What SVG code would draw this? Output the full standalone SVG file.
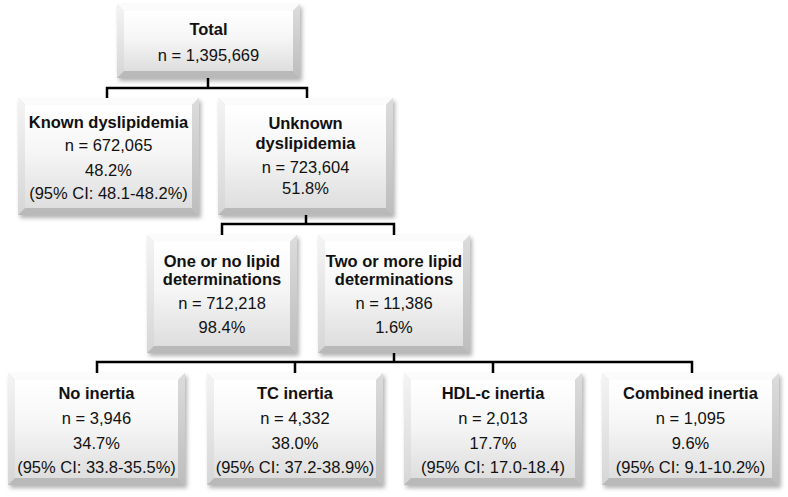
<svg xmlns="http://www.w3.org/2000/svg" width="788" height="497" viewBox="0 0 788 497">
<defs>
<linearGradient id="face" x1="0" y1="0" x2="0" y2="1">
<stop offset="0" stop-color="#ffffff"/>
<stop offset="0.45" stop-color="#f6f6f6"/>
<stop offset="1" stop-color="#dedede"/>
</linearGradient>
<linearGradient id="side" x1="0" y1="0" x2="0" y2="1">
<stop offset="0" stop-color="#f4f4f4"/>
<stop offset="1" stop-color="#d6d6d6"/>
</linearGradient>
<linearGradient id="rside" x1="0" y1="0" x2="0" y2="1">
<stop offset="0" stop-color="#dcdcdc"/>
<stop offset="1" stop-color="#bdbdbd"/>
</linearGradient>
<filter id="sh" x="-10%" y="-10%" width="125%" height="130%">
<feDropShadow dx="2" dy="3" stdDeviation="2" flood-color="#000" flood-opacity="0.3"/>
</filter>
</defs>
<style>
.box{fill:#d8d8d8;filter:url(#sh)}
.face{fill:url(#face)}
.bt{fill:#fbfbfb}
.bl{fill:url(#side)}
.br{fill:url(#rside)}
.bb{fill:#b9b9b9}
text{font-family:"Liberation Sans",Arial,sans-serif;font-size:16.5px;fill:#111;text-anchor:middle}
.h{font-weight:bold}
.conn{fill:none;stroke:#000;stroke-width:2.5}
</style>

<g id="connectors" class="conn">
<path d="M208,78 V88 M107,98 V88 H307 V98"/>
<path d="M306,215 V224 M222,235 V224 H394 V235"/>
<path d="M394,353 V362 M97,373 V362 H692 V373 M295,362 V373 M493,362 V373"/>
</g>

<g id="total">
<rect class="box" x="117" y="4" width="183" height="74"/>
<path class="bt" d="M117,4 H300 L293,11 H124 Z"/>
<path class="bl" d="M117,4 L124,11 V71 L117,78 Z"/>
<path class="br" d="M300,4 V78 L293,71 V11 Z"/>
<path class="bb" d="M117,78 H300 L293,71 H124 Z"/>
<rect class="face" x="124" y="11" width="169" height="60"/>
<text class="h" x="208.5" y="35">Total</text>
<text x="208.5" y="61">n = 1,395,669</text>
</g>

<g id="known">
<rect class="box" x="18" y="98" width="181" height="117"/>
<path class="bt" d="M18,98 H199 L192,105 H25 Z"/>
<path class="bl" d="M18,98 L25,105 V208 L18,215 Z"/>
<path class="br" d="M199,98 V215 L192,208 V105 Z"/>
<path class="bb" d="M18,215 H199 L192,208 H25 Z"/>
<rect class="face" x="25" y="105" width="167" height="103"/>
<text class="h" x="108.5" y="128">Known dyslipidemia</text>
<text x="108.5" y="151">n = 672,065</text>
<text x="108.5" y="176">48.2%</text>
<text x="108.5" y="199">(95% CI: 48.1-48.2%)</text>
</g>

<g id="unknown">
<rect class="box" x="218" y="98" width="175" height="117"/>
<path class="bt" d="M218,98 H393 L386,105 H225 Z"/>
<path class="bl" d="M218,98 L225,105 V208 L218,215 Z"/>
<path class="br" d="M393,98 V215 L386,208 V105 Z"/>
<path class="bb" d="M218,215 H393 L386,208 H225 Z"/>
<rect class="face" x="225" y="105" width="161" height="103"/>
<text class="h" x="305.5" y="129">Unknown</text>
<text class="h" x="305.5" y="149">dyslipidemia</text>
<text x="305.5" y="173">n = 723,604</text>
<text x="305.5" y="194">51.8%</text>
</g>

<g id="one-or-no">
<rect class="box" x="147" y="235" width="150" height="118"/>
<path class="bt" d="M147,235 H297 L290,242 H154 Z"/>
<path class="bl" d="M147,235 L154,242 V346 L147,353 Z"/>
<path class="br" d="M297,235 V353 L290,346 V242 Z"/>
<path class="bb" d="M147,353 H297 L290,346 H154 Z"/>
<rect class="face" x="154" y="242" width="136" height="104"/>
<text class="h" x="222" y="267">One or no lipid</text>
<text class="h" x="222" y="285">determinations</text>
<text x="222" y="309">n = 712,218</text>
<text x="222" y="333">98.4%</text>
</g>

<g id="two-or-more">
<rect class="box" x="318" y="235" width="152" height="118"/>
<path class="bt" d="M318,235 H470 L463,242 H325 Z"/>
<path class="bl" d="M318,235 L325,242 V346 L318,353 Z"/>
<path class="br" d="M470,235 V353 L463,346 V242 Z"/>
<path class="bb" d="M318,353 H470 L463,346 H325 Z"/>
<rect class="face" x="325" y="242" width="138" height="104"/>
<text class="h" x="394" y="267">Two or more lipid</text>
<text class="h" x="394" y="285">determinations</text>
<text x="394" y="309">n = 11,386</text>
<text x="394" y="333">1.6%</text>
</g>

<g id="no-inertia">
<rect class="box" x="8" y="373" width="177" height="112"/>
<path class="bt" d="M8,373 H185 L178,380 H15 Z"/>
<path class="bl" d="M8,373 L15,380 V478 L8,485 Z"/>
<path class="br" d="M185,373 V485 L178,478 V380 Z"/>
<path class="bb" d="M8,485 H185 L178,478 H15 Z"/>
<rect class="face" x="15" y="380" width="163" height="98"/>
<text class="h" x="96.5" y="399">No inertia</text>
<text x="96.5" y="424">n = 3,946</text>
<text x="96.5" y="449">34.7%</text>
<text x="96.5" y="473">(95% CI: 33.8-35.5%)</text>
</g>

<g id="tc-inertia">
<rect class="box" x="207" y="373" width="176" height="112"/>
<path class="bt" d="M207,373 H383 L376,380 H214 Z"/>
<path class="bl" d="M207,373 L214,380 V478 L207,485 Z"/>
<path class="br" d="M383,373 V485 L376,478 V380 Z"/>
<path class="bb" d="M207,485 H383 L376,478 H214 Z"/>
<rect class="face" x="214" y="380" width="162" height="98"/>
<text class="h" x="295" y="399">TC inertia</text>
<text x="295" y="424">n = 4,332</text>
<text x="295" y="449">38.0%</text>
<text x="295" y="473">(95% CI: 37.2-38.9%)</text>
</g>

<g id="hdl-inertia">
<rect class="box" x="404" y="373" width="178" height="112"/>
<path class="bt" d="M404,373 H582 L575,380 H411 Z"/>
<path class="bl" d="M404,373 L411,380 V478 L404,485 Z"/>
<path class="br" d="M582,373 V485 L575,478 V380 Z"/>
<path class="bb" d="M404,485 H582 L575,478 H411 Z"/>
<rect class="face" x="411" y="380" width="164" height="98"/>
<text class="h" x="493" y="399">HDL-c inertia</text>
<text x="493" y="424">n = 2,013</text>
<text x="493" y="449">17.7%</text>
<text x="493" y="473">(95% CI: 17.0-18.4)</text>
</g>

<g id="combined-inertia">
<rect class="box" x="602" y="373" width="177" height="112"/>
<path class="bt" d="M602,373 H779 L772,380 H609 Z"/>
<path class="bl" d="M602,373 L609,380 V478 L602,485 Z"/>
<path class="br" d="M779,373 V485 L772,478 V380 Z"/>
<path class="bb" d="M602,485 H779 L772,478 H609 Z"/>
<rect class="face" x="609" y="380" width="163" height="98"/>
<text class="h" x="690.5" y="399">Combined inertia</text>
<text x="690.5" y="424">n = 1,095</text>
<text x="690.5" y="449">9.6%</text>
<text x="690.5" y="473">(95% CI: 9.1-10.2%)</text>
</g>
</svg>
